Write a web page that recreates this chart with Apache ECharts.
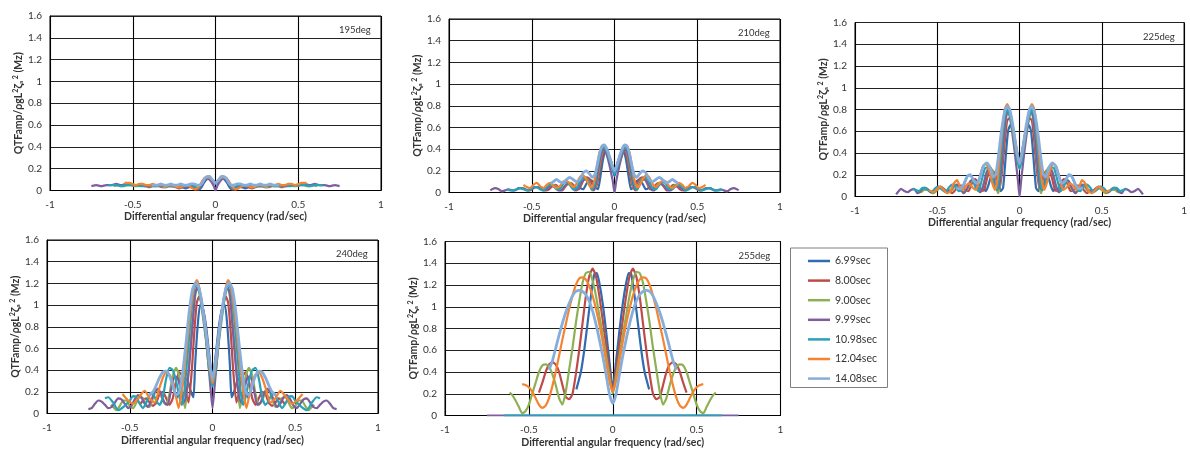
<!DOCTYPE html>
<html>
<head>
<meta charset="utf-8">
<script src="https://cdn.jsdelivr.net/npm/echarts@6/dist/echarts.min.js"></script>
<style>
  html, body { margin: 0; padding: 0; background: #fff; }
  #chart { width: 1190px; height: 450px; }
</style>
</head>
<body>
<div id="chart"></div>
<script>
// Wave periods (legend entries) and heading angles (one panel each)
const periods = ['6.99sec', '8.00sec', '9.00sec', '9.99sec', '10.98sec', '12.04sec', '14.08sec'];
const headings = ['195deg', '210deg', '225deg', '240deg', '255deg'];

// QTF amplitude vs. differential angular frequency, Δω >= 0 half
// (the curves are symmetric about Δω = 0). One list per period, same order as `periods`.
const q195 = [
  [[0,0.06],[0.02,0.09],[0.04,0.11],[0.055,0.1],[0.07,0.07],[0.085,0.03],[0.1,0.01],[0.12,0.03],[0.14,0.04],[0.16,0.03],[0.18,0.02],[0.2,0.03],[0.22,0.04]],
  [[0,0.07],[0.02,0.09],[0.04,0.11],[0.06,0.11],[0.075,0.08],[0.09,0.04],[0.105,0.01],[0.12,0.01],[0.14,0.03],[0.16,0.04],[0.18,0.04],[0.2,0.03],[0.22,0.02],[0.24,0.03],[0.26,0.04],[0.28,0.04],[0.3,0.03],[0.32,0.03],[0.34,0.04],[0.36,0.04],[0.38,0.04],[0.4,0.03],[0.42,0.04],[0.44,0.04]],
  [[0,0.07],[0.02,0.09],[0.04,0.11],[0.06,0.11],[0.08,0.08],[0.095,0.04],[0.11,0.02],[0.13,0.02],[0.15,0.04],[0.17,0.05],[0.19,0.04],[0.21,0.03],[0.23,0.03],[0.25,0.04],[0.27,0.05],[0.29,0.04],[0.31,0.03],[0.33,0.04],[0.35,0.05],[0.37,0.04],[0.39,0.04],[0.41,0.04],[0.43,0.05],[0.45,0.05],[0.47,0.04],[0.49,0.04],[0.51,0.05],[0.53,0.05],[0.55,0.04],[0.57,0.04],[0.59,0.05],[0.615,0.04]],
  [[0,0],[0.01,0.04],[0.03,0.09],[0.05,0.11],[0.065,0.1],[0.08,0.06],[0.095,0.03],[0.11,0.02],[0.13,0.03],[0.15,0.05],[0.17,0.04],[0.19,0.03],[0.21,0.04],[0.23,0.05],[0.25,0.04],[0.27,0.04],[0.3,0.05],[0.33,0.04],[0.36,0.05],[0.39,0.05],[0.42,0.04],[0.45,0.05],[0.48,0.05],[0.51,0.05],[0.54,0.06],[0.57,0.05],[0.6,0.06],[0.63,0.05],[0.66,0.05],[0.69,0.04],[0.72,0.05],[0.75,0.04]],
  [[0,0.07],[0.02,0.1],[0.04,0.12],[0.06,0.12],[0.075,0.09],[0.09,0.05],[0.105,0.02],[0.12,0.03],[0.14,0.05],[0.16,0.05],[0.18,0.04],[0.2,0.04],[0.22,0.05],[0.24,0.05],[0.26,0.04],[0.28,0.04],[0.3,0.05],[0.33,0.05],[0.36,0.04],[0.39,0.05],[0.42,0.05],[0.45,0.04],[0.48,0.05],[0.51,0.05],[0.54,0.05],[0.57,0.04],[0.6,0.05],[0.63,0.05],[0.65,0.05]],
  [[0,0.07],[0.02,0.1],[0.04,0.12],[0.06,0.12],[0.075,0.1],[0.09,0.06],[0.105,0.03],[0.12,0.01],[0.14,0.02],[0.16,0.04],[0.18,0.05],[0.2,0.04],[0.22,0.03],[0.24,0.04],[0.26,0.05],[0.28,0.05],[0.3,0.04],[0.32,0.05],[0.34,0.05],[0.36,0.05],[0.38,0.06],[0.4,0.05],[0.42,0.05],[0.44,0.06],[0.46,0.06],[0.48,0.05],[0.5,0.06],[0.52,0.07],[0.55,0.07]],
  [[0,0.07],[0.02,0.1],[0.035,0.13],[0.05,0.13],[0.065,0.11],[0.08,0.07],[0.095,0.05],[0.11,0.05],[0.13,0.06],[0.15,0.06],[0.17,0.05],[0.19,0.05],[0.21,0.06],[0.23,0.05],[0.25,0.05],[0.27,0.06],[0.29,0.05],[0.31,0.05],[0.33,0.06],[0.35,0.05],[0.37,0.05],[0.385,0.05]]
];

const q210 = [
  [[0,0.15],[0.02,0.28],[0.04,0.36],[0.055,0.37],[0.07,0.3],[0.085,0.15],[0.1,0.03],[0.115,0.05],[0.13,0.1],[0.15,0.12],[0.17,0.08],[0.19,0.03],[0.205,0.04],[0.22,0.06]],
  [[0,0.18],[0.02,0.28],[0.04,0.36],[0.06,0.38],[0.075,0.33],[0.09,0.2],[0.105,0.08],[0.12,0.03],[0.135,0.08],[0.155,0.13],[0.175,0.14],[0.195,0.09],[0.215,0.03],[0.235,0.04],[0.255,0.08],[0.275,0.09],[0.295,0.06],[0.315,0.02],[0.335,0.04],[0.355,0.07],[0.375,0.06],[0.395,0.03],[0.415,0.02],[0.44,0.05]],
  [[0,0.2],[0.02,0.28],[0.04,0.37],[0.06,0.4],[0.075,0.37],[0.09,0.26],[0.105,0.12],[0.12,0.03],[0.135,0.02],[0.15,0.08],[0.17,0.13],[0.19,0.12],[0.21,0.06],[0.23,0.02],[0.25,0.05],[0.27,0.09],[0.29,0.08],[0.31,0.04],[0.33,0.02],[0.35,0.05],[0.37,0.07],[0.39,0.06],[0.41,0.03],[0.43,0.02],[0.45,0.04],[0.47,0.05],[0.49,0.04],[0.51,0.02],[0.53,0.02],[0.55,0.04],[0.57,0.04],[0.59,0.03],[0.615,0.02]],
  [[0,0],[0.01,0.1],[0.03,0.25],[0.05,0.36],[0.065,0.4],[0.08,0.36],[0.095,0.24],[0.11,0.1],[0.125,0.02],[0.14,0.04],[0.16,0.1],[0.18,0.12],[0.2,0.09],[0.22,0.03],[0.24,0.02],[0.26,0.06],[0.28,0.08],[0.3,0.06],[0.32,0.02],[0.34,0.02],[0.36,0.05],[0.38,0.06],[0.4,0.04],[0.42,0.02],[0.44,0.03],[0.46,0.05],[0.48,0.05],[0.5,0.03],[0.52,0.02],[0.54,0.03],[0.56,0.04],[0.58,0.04],[0.6,0.02],[0.62,0.02],[0.64,0.03],[0.66,0.02],[0.68,0.01],[0.7,0.03],[0.72,0.04],[0.74,0.03],[0.75,0.02]],
  [[0,0.17],[0.02,0.25],[0.04,0.35],[0.06,0.41],[0.075,0.41],[0.09,0.34],[0.105,0.2],[0.12,0.08],[0.135,0.03],[0.15,0.07],[0.17,0.13],[0.19,0.14],[0.21,0.1],[0.23,0.04],[0.25,0.03],[0.27,0.07],[0.29,0.1],[0.31,0.08],[0.33,0.03],[0.35,0.03],[0.37,0.06],[0.39,0.07],[0.41,0.05],[0.43,0.02],[0.45,0.03],[0.47,0.05],[0.49,0.05],[0.51,0.03],[0.53,0.02],[0.55,0.03],[0.57,0.04],[0.59,0.03],[0.61,0.02],[0.63,0.02],[0.65,0.03]],
  [[0,0.2],[0.02,0.27],[0.04,0.37],[0.06,0.43],[0.075,0.43],[0.09,0.37],[0.105,0.25],[0.12,0.12],[0.135,0.05],[0.15,0.06],[0.17,0.12],[0.19,0.16],[0.21,0.14],[0.23,0.08],[0.25,0.05],[0.27,0.08],[0.29,0.11],[0.31,0.1],[0.33,0.06],[0.35,0.04],[0.37,0.06],[0.39,0.09],[0.41,0.07],[0.43,0.04],[0.45,0.06],[0.47,0.09],[0.49,0.07],[0.51,0.04],[0.53,0.05],[0.55,0.07]],
  [[0,0.2],[0.02,0.28],[0.04,0.38],[0.06,0.44],[0.075,0.43],[0.09,0.36],[0.105,0.25],[0.12,0.16],[0.135,0.14],[0.15,0.17],[0.17,0.2],[0.19,0.18],[0.21,0.12],[0.23,0.1],[0.25,0.12],[0.27,0.14],[0.29,0.12],[0.31,0.09],[0.33,0.1],[0.35,0.12],[0.37,0.1],[0.385,0.08]]
];

const q225 = [
  [[0,0.3],[0.02,0.45],[0.04,0.6],[0.055,0.66],[0.07,0.6],[0.085,0.35],[0.1,0.08],[0.115,0.05],[0.13,0.15],[0.15,0.22],[0.17,0.2],[0.19,0.1],[0.205,0.05],[0.22,0.08]],
  [[0,0.3],[0.02,0.45],[0.04,0.63],[0.06,0.72],[0.075,0.7],[0.09,0.5],[0.105,0.25],[0.12,0.08],[0.135,0.12],[0.155,0.22],[0.175,0.25],[0.195,0.18],[0.215,0.06],[0.23,0.05],[0.25,0.12],[0.27,0.16],[0.29,0.12],[0.31,0.05],[0.33,0.06],[0.35,0.1],[0.37,0.1],[0.39,0.06],[0.41,0.03],[0.43,0.06],[0.44,0.07]],
  [[0,0.28],[0.02,0.42],[0.04,0.62],[0.06,0.75],[0.075,0.76],[0.09,0.62],[0.105,0.35],[0.12,0.1],[0.13,0.03],[0.145,0.1],[0.165,0.24],[0.185,0.28],[0.205,0.2],[0.225,0.08],[0.24,0.04],[0.26,0.1],[0.28,0.15],[0.3,0.12],[0.32,0.06],[0.34,0.04],[0.36,0.08],[0.38,0.1],[0.4,0.08],[0.42,0.04],[0.44,0.04],[0.46,0.07],[0.48,0.08],[0.5,0.06],[0.52,0.03],[0.54,0.04],[0.56,0.06],[0.58,0.06],[0.6,0.04],[0.615,0.04]],
  [[0,0],[0.01,0.15],[0.03,0.42],[0.05,0.65],[0.065,0.78],[0.08,0.76],[0.095,0.55],[0.11,0.28],[0.125,0.08],[0.14,0.06],[0.16,0.18],[0.18,0.26],[0.2,0.22],[0.22,0.1],[0.24,0.04],[0.26,0.1],[0.28,0.16],[0.3,0.14],[0.32,0.07],[0.34,0.03],[0.36,0.07],[0.38,0.11],[0.4,0.1],[0.42,0.05],[0.44,0.04],[0.46,0.07],[0.48,0.09],[0.5,0.07],[0.52,0.04],[0.54,0.04],[0.56,0.07],[0.58,0.08],[0.6,0.05],[0.62,0.03],[0.64,0.07],[0.66,0.06],[0.68,0.04],[0.7,0.05],[0.72,0.07],[0.74,0.04],[0.75,0.02]],
  [[0,0.25],[0.02,0.38],[0.04,0.58],[0.06,0.74],[0.075,0.8],[0.09,0.74],[0.105,0.52],[0.12,0.25],[0.135,0.06],[0.15,0.08],[0.17,0.2],[0.19,0.27],[0.21,0.26],[0.23,0.15],[0.25,0.05],[0.27,0.09],[0.29,0.18],[0.31,0.2],[0.33,0.14],[0.35,0.06],[0.37,0.05],[0.39,0.1],[0.41,0.11],[0.43,0.08],[0.45,0.04],[0.47,0.06],[0.49,0.09],[0.51,0.08],[0.53,0.05],[0.55,0.05],[0.57,0.08],[0.59,0.08],[0.61,0.05],[0.63,0.06],[0.65,0.07]],
  [[0,0.3],[0.02,0.42],[0.04,0.62],[0.06,0.8],[0.075,0.85],[0.09,0.8],[0.105,0.62],[0.12,0.38],[0.135,0.15],[0.15,0.06],[0.165,0.12],[0.185,0.24],[0.205,0.3],[0.225,0.27],[0.245,0.16],[0.265,0.06],[0.285,0.08],[0.305,0.12],[0.325,0.1],[0.345,0.06],[0.36,0.08],[0.38,0.15],[0.4,0.12],[0.42,0.05],[0.44,0.03],[0.46,0.06],[0.48,0.09],[0.5,0.07],[0.52,0.04],[0.54,0.05],[0.55,0.06]],
  [[0,0.3],[0.02,0.45],[0.04,0.65],[0.06,0.8],[0.075,0.83],[0.09,0.78],[0.11,0.6],[0.13,0.35],[0.145,0.2],[0.16,0.18],[0.18,0.27],[0.2,0.31],[0.22,0.28],[0.24,0.18],[0.26,0.12],[0.28,0.15],[0.3,0.2],[0.32,0.18],[0.34,0.11],[0.36,0.07],[0.385,0.08]]
];

const q240 = [
  [[0,0.3],[0.02,0.55],[0.04,0.82],[0.06,0.98],[0.075,1.0],[0.09,0.8],[0.105,0.45],[0.115,0.15],[0.13,0.2],[0.15,0.3],[0.17,0.33],[0.19,0.28],[0.205,0.18],[0.22,0.14]],
  [[0,0.3],[0.02,0.5],[0.04,0.78],[0.06,0.98],[0.08,1.08],[0.095,1.02],[0.11,0.75],[0.125,0.4],[0.145,0.1],[0.16,0.2],[0.18,0.34],[0.2,0.38],[0.22,0.3],[0.24,0.14],[0.26,0.08],[0.28,0.14],[0.3,0.2],[0.32,0.18],[0.34,0.1],[0.36,0.07],[0.38,0.1],[0.4,0.14],[0.42,0.12],[0.44,0.08]],
  [[0,0.3],[0.02,0.48],[0.04,0.74],[0.06,0.95],[0.08,1.12],[0.095,1.15],[0.11,1.02],[0.13,0.7],[0.15,0.3],[0.165,0.05],[0.18,0.15],[0.2,0.34],[0.22,0.42],[0.24,0.35],[0.26,0.18],[0.28,0.08],[0.3,0.12],[0.32,0.2],[0.34,0.21],[0.36,0.14],[0.38,0.06],[0.4,0.08],[0.42,0.14],[0.44,0.15],[0.46,0.1],[0.48,0.05],[0.5,0.07],[0.52,0.12],[0.54,0.12],[0.56,0.07],[0.58,0.03],[0.6,0.06],[0.615,0.08]],
  [[0,0.05],[0.01,0.2],[0.03,0.55],[0.05,0.86],[0.07,1.08],[0.09,1.17],[0.105,1.1],[0.12,0.82],[0.14,0.45],[0.16,0.15],[0.175,0.1],[0.19,0.2],[0.21,0.33],[0.23,0.34],[0.25,0.22],[0.27,0.08],[0.29,0.1],[0.31,0.18],[0.33,0.23],[0.35,0.2],[0.37,0.12],[0.39,0.06],[0.41,0.09],[0.43,0.15],[0.45,0.17],[0.47,0.13],[0.49,0.07],[0.51,0.05],[0.53,0.09],[0.55,0.13],[0.57,0.14],[0.59,0.1],[0.61,0.06],[0.63,0.05],[0.65,0.08],[0.67,0.11],[0.69,0.12],[0.71,0.09],[0.73,0.05],[0.75,0.04]],
  [[0,0.25],[0.02,0.4],[0.04,0.68],[0.06,0.92],[0.08,1.12],[0.095,1.2],[0.11,1.15],[0.13,0.9],[0.15,0.55],[0.17,0.2],[0.185,0.08],[0.2,0.15],[0.22,0.3],[0.24,0.4],[0.26,0.42],[0.28,0.32],[0.3,0.15],[0.32,0.08],[0.34,0.12],[0.36,0.18],[0.38,0.17],[0.4,0.1],[0.42,0.05],[0.44,0.09],[0.46,0.15],[0.48,0.16],[0.5,0.12],[0.53,0.07],[0.57,0.03],[0.6,0.1],[0.63,0.15],[0.65,0.14]],
  [[0,0.28],[0.02,0.45],[0.04,0.72],[0.06,0.96],[0.08,1.16],[0.095,1.23],[0.11,1.18],[0.13,0.98],[0.15,0.7],[0.17,0.4],[0.19,0.16],[0.205,0.05],[0.22,0.15],[0.24,0.28],[0.26,0.36],[0.28,0.38],[0.3,0.33],[0.32,0.24],[0.35,0.1],[0.38,0.14],[0.41,0.21],[0.44,0.16],[0.48,0.09],[0.51,0.12],[0.544,0.18]],
  [[0,0.32],[0.02,0.5],[0.04,0.76],[0.06,0.98],[0.08,1.15],[0.1,1.21],[0.12,1.15],[0.14,0.95],[0.16,0.65],[0.18,0.38],[0.2,0.2],[0.22,0.17],[0.24,0.26],[0.26,0.35],[0.28,0.39],[0.3,0.38],[0.32,0.33],[0.34,0.26],[0.36,0.2],[0.385,0.17]]
];

const q255 = [
  [[0,0.25],[0.02,0.5],[0.04,0.78],[0.06,1.03],[0.08,1.22],[0.095,1.31],[0.11,1.3],[0.13,1.1],[0.15,0.85],[0.17,0.6],[0.19,0.4],[0.217,0.24]],
  [[0,0.22],[0.02,0.42],[0.04,0.65],[0.06,0.88],[0.08,1.1],[0.1,1.28],[0.12,1.35],[0.14,1.28],[0.16,1.1],[0.18,0.85],[0.2,0.6],[0.22,0.38],[0.24,0.2],[0.26,0.15],[0.28,0.17],[0.3,0.28],[0.32,0.4],[0.34,0.47],[0.36,0.49],[0.38,0.47],[0.4,0.4],[0.42,0.3],[0.44,0.21]],
  [[0,0.2],[0.02,0.36],[0.04,0.55],[0.06,0.74],[0.08,0.92],[0.1,1.1],[0.12,1.24],[0.14,1.32],[0.16,1.31],[0.18,1.22],[0.2,1.05],[0.22,0.85],[0.24,0.62],[0.26,0.42],[0.28,0.22],[0.3,0.1],[0.32,0.16],[0.34,0.28],[0.36,0.38],[0.38,0.45],[0.4,0.47],[0.42,0.46],[0.44,0.4],[0.46,0.3],[0.48,0.2],[0.5,0.1],[0.52,0.04],[0.54,0.02],[0.56,0.08],[0.58,0.14],[0.6,0.19],[0.615,0.21]],
  [[0,0],[0.25,0],[0.5,0],[0.75,0]],
  [[0,0],[0.25,0],[0.5,0],[0.65,0]],
  [[0,0.22],[0.02,0.32],[0.04,0.5],[0.06,0.68],[0.08,0.84],[0.1,0.98],[0.12,1.1],[0.14,1.19],[0.16,1.25],[0.18,1.27],[0.2,1.26],[0.22,1.2],[0.24,1.1],[0.26,0.98],[0.28,0.84],[0.3,0.7],[0.32,0.55],[0.34,0.4],[0.36,0.27],[0.38,0.16],[0.4,0.09],[0.42,0.07],[0.44,0.1],[0.46,0.16],[0.48,0.22],[0.5,0.26],[0.52,0.28],[0.54,0.29]],
  [[0,0.11],[0.02,0.2],[0.04,0.38],[0.06,0.55],[0.08,0.7],[0.1,0.84],[0.12,0.96],[0.14,1.05],[0.16,1.11],[0.18,1.14],[0.2,1.15],[0.22,1.14],[0.24,1.1],[0.26,1.03],[0.28,0.95],[0.3,0.85],[0.32,0.74],[0.34,0.62],[0.36,0.5],[0.38,0.42]]
];

const panels = [q195, q210, q225, q240, q255];

// Appearance
const colors = ['#2F6DB0', '#BE4B48', '#8DB053', '#7E5E9F', '#27A2B8', '#F5832F', '#86AEDC'];
const widths = [2.2, 2.2, 2.2, 2.2, 2.2, 2.2, 2.8];
const FONT = 'Lato, "Noto Sans", "DejaVu Sans", sans-serif';
// plot rectangles [left, top, right, bottom] in px
const boxes = [
  [50, 16, 381, 190.5],
  [449, 19, 780, 192.5],
  [855, 22.5, 1185, 196.5],
  [47, 240, 378, 413.5],
  [445, 241.5, 780.5, 415.5]
];

// both halves of a symmetric curve
function mirrored(half) {
  const neg = half.filter(p => p[0] > 0).map(p => [-p[0], p[1]]).reverse();
  return neg.concat(half);
}

const grid = [], xAxis = [], yAxis = [], series = [], graphic = [];
boxes.forEach((b, i) => {
  grid.push({
    left: b[0], top: b[1], width: b[2] - b[0], height: b[3] - b[1],
    show: true, borderColor: '#000', borderWidth: 1, backgroundColor: '#fff'
  });
  xAxis.push({
    type: 'value', gridIndex: i, min: -1, max: 1, interval: 0.5,
    name: 'Differential angular frequency (rad/sec)',
    nameLocation: 'middle', nameGap: i < 3 ? 21 : 22,
    nameTextStyle: { fontFamily: FONT, fontWeight: 'bold', fontSize: 10.5, color: '#333' },
    axisLine: { show: true, lineStyle: { color: '#000', width: 1 } },
    axisTick: { show: false },
    axisLabel: { fontFamily: FONT, fontSize: 10, color: '#333', margin: 9 },
    splitLine: { show: true, lineStyle: { color: '#000', width: 1.1 } }
  });
  yAxis.push({
    type: 'value', gridIndex: i, min: 0, max: 1.6, interval: 0.2,
    name: '{t|QTFamp/ρgL}{s|2}{z|ζ}{u|a}{s| 2}{t| (Mz)}',
    nameLocation: 'middle', nameRotate: 90, nameGap: 24,
    nameTextStyle: {
      fontFamily: FONT, fontWeight: 'bold', fontSize: 10.5, color: '#333',
      rich: {
        t: { fontFamily: FONT, fontWeight: 'bold', fontSize: 10.5, color: '#333' },
        z: { fontFamily: FONT, fontWeight: 'bold', fontSize: 12, color: '#333' },
        s: { fontFamily: FONT, fontWeight: 'bold', fontSize: 7, color: '#333', verticalAlign: 'top' },
        u: { fontFamily: FONT, fontWeight: 'bold', fontSize: 6, color: '#333', verticalAlign: 'bottom' }
      }
    },
    axisLine: { show: true, onZero: false, lineStyle: { color: '#000', width: 1 } },
    axisTick: { show: false },
    axisLabel: { fontFamily: FONT, fontSize: 10, color: '#333', margin: 8 },
    splitLine: { show: true, lineStyle: { color: '#222', width: 1.1 } }
  });
  panels[i].forEach((half, k) => {
    series.push({
      type: 'line', name: periods[k], xAxisIndex: i, yAxisIndex: i,
      data: mirrored(half), symbol: 'none', smooth: 0.2,
      color: colors[k],
      lineStyle: { color: colors[k], width: widths[k] },
      z: 2 + k, animation: false
    });
  });
  graphic.push({
    type: 'text', left: b[2] - 42, top: b[1] + 9,
    style: { text: headings[i], fontFamily: FONT, fontSize: 9.5, fill: '#333' },
    z: 100
  });
});

// legend frame
graphic.push({
  type: 'rect', left: 788, top: 245.5,
  shape: { width: 97, height: 139.5 },
  style: { fill: 'none', stroke: '#7f7f7f', lineWidth: 1 }, z: 90
});

const chart = echarts.init(document.getElementById('chart'), null, { renderer: 'canvas' });
chart.setOption({
  backgroundColor: '#fff',
  animation: false,
  grid, xAxis, yAxis, series, graphic,
  legend: {
    data: periods, orient: 'vertical', left: 803, top: 250,
    itemWidth: 22, itemHeight: 8, itemGap: 7.6,
    textStyle: { fontFamily: FONT, fontSize: 10.5, color: '#333', lineHeight: 12 },
    icon: 'path://M0,3.5L22,3.5L22,6L0,6Z'
  }
});
</script>
</body>
</html>
